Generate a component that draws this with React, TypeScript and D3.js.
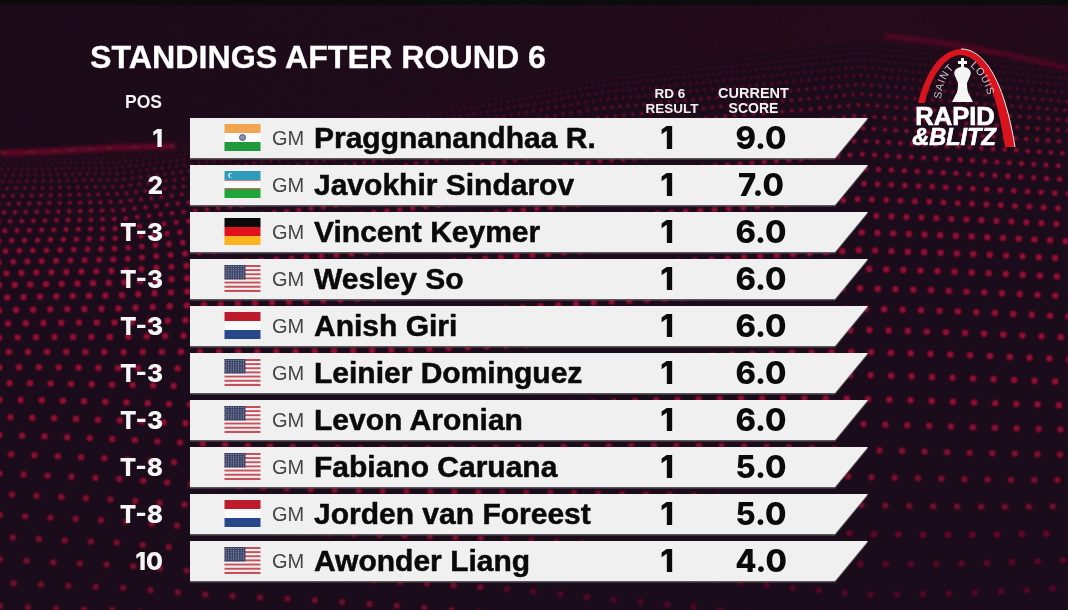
import { useEffect, useRef } from 'react';
import * as d3 from 'd3';

const positions = ['1', '2', 'T-3', 'T-3', 'T-3', 'T-3', 'T-3', 'T-8', 'T-8', '10'];
const players = [
    'Praggnanandhaa R.',
    'Javokhir Sindarov',
    'Vincent Keymer',
    'Wesley So',
    'Anish Giri',
    'Leinier Dominguez',
    'Levon Aronian',
    'Fabiano Caruana',
    'Jorden van Foreest',
    'Awonder Liang',
];
const flags = ['IN', 'UZ', 'DE', 'US', 'NL', 'US', 'US', 'US', 'NL', 'US'];
const results = ['1', '1', '1', '1', '1', '1', '1', '1', '1', '1'];
const scores = [9.0, 7.0, 6.0, 6.0, 6.0, 6.0, 6.0, 5.0, 5.0, 4.0];

const FONT = '"Liberation Sans", Arial, sans-serif';
const NUM_FONT = 'Inter, "Liberation Sans", sans-serif';
const BG = '#1a0c1a';

function drawFlag(g: d3.Selection<SVGGElement, unknown, null, undefined>, code: string) {
    const w = 36;
    const h = 27;
    const band = (y: number, bh: number, fill: string) =>
        g.append('rect').attr('y', y).attr('width', w).attr('height', bh).attr('fill', fill);

    if (code === 'IN') {
        band(0, 9, '#f2a550');
        band(9, 9, '#fafafa');
        band(18, 9, '#1f9a3a');
        g.append('circle').attr('cx', w / 2).attr('cy', 13.5).attr('r', 3)
            .attr('fill', '#8a93a8').attr('stroke', '#2d3a78').attr('stroke-width', 0.8);
    } else if (code === 'UZ') {
        band(0, 9, '#2e9dbb');
        band(9, 0.8, '#d8333f');
        band(9.8, 7.4, '#fafafa');
        band(17.2, 0.8, '#d8333f');
        band(18, 9, '#1ea53a');
        g.append('circle').attr('cx', 6).attr('cy', 4.4).attr('r', 2.3).attr('fill', '#fafafa');
        g.append('circle').attr('cx', 7).attr('cy', 4.4).attr('r', 2).attr('fill', '#2e9dbb');
    } else if (code === 'DE') {
        band(0, 9, '#0a0a0a');
        band(9, 9, '#e0101c');
        band(18, 9, '#fbb41f');
    } else if (code === 'NL') {
        band(0, 9, '#bd1a2c');
        band(9, 9, '#fafafa');
        band(18, 9, '#27478a');
    } else {
        const stripe = h / 13;
        d3.range(13).forEach((i) => {
            band(i * stripe, stripe, i % 2 === 0 ? '#c4505c' : '#f6f0f0');
        });
        g.append('rect').attr('width', 21).attr('height', stripe * 7).attr('fill', '#3b4466');
        d3.range(7).forEach((r) => {
            d3.range(8).forEach((c) => {
                g.append('circle')
                    .attr('cx', 1.6 + c * 2.5)
                    .attr('cy', 1.6 + r * 2.1)
                    .attr('r', 0.5)
                    .attr('fill', '#b9bfd2');
            });
        });
    }
}

function drawBackground(svg: d3.Selection<SVGSVGElement, unknown, null, undefined>, w: number, h: number) {
    const defs = svg.append('defs');
    defs.append('filter').attr('id', 'soft')
        .attr('x', '-5%').attr('y', '-5%').attr('width', '110%').attr('height', '110%')
        .append('feGaussianBlur').attr('stdDeviation', 0.9);
    defs.append('filter').attr('id', 'streak')
        .attr('x', '-10%').attr('y', '-300%').attr('width', '120%').attr('height', '700%')
        .append('feGaussianBlur').attr('stdDeviation', 2.2);

    svg.append('rect').attr('width', w).attr('height', h).attr('fill', BG);

    // ridge of the wave: flat on the left, lifts up behind the table
    const ridge = d3.scaleLinear()
        .domain([0, 120, 300, 600, 860, 1068])
        .range([152, 150, 125, 70, 42, 62]);

    const dots = svg.append('g').attr('filter', 'url(#soft)').attr('fill', '#b00c38');

    // lower surface, dots get larger toward the viewer
    for (let row = 0; row < 42; row++) {
        const step = 3.2 + row * 0.55;
        const dx = step * 1.25;
        const cols = Math.ceil(w / dx) + 4;
        for (let col = -2; col < cols; col++) {
            const x0 = col * dx + (row % 2) * dx * 0.5 + row * 0.4;
            const depth = 3.2 * row + 0.275 * row * row;
            const lift = 1 - Math.min(1, depth / 520);
            const wob = 9 * Math.sin(x0 / 130 + row / 5);
            const y0 = ridge(x0) + depth * (1 + (152 - ridge(x0)) / 500) + (152 - ridge(x0)) * (1 - lift) + wob * (1 - lift);
            if (y0 > h + 6) continue;
            const low = Math.max(0, (y0 - 400) / 210);
            const fade = x0 > 500 ? 1 - 0.6 * low : 1 - 0.35 * low;
            dots.append('circle')
                .attr('cx', x0)
                .attr('cy', y0)
                .attr('r', Math.min(3.2, 0.7 + row * 0.15))
                .attr('opacity', Math.min(0.85, 0.45 + row * 0.035) * fade);
        }
    }

    // upper surface, fine and faint
    for (let row = 1; row < 34; row++) {
        const step = 4.8;
        for (let col = 0; col < w / step + 1; col++) {
            const x0 = col * step + (row % 2) * step * 0.5;
            const y0 = ridge(x0) - row * 4.6 * (ridge(x0) / 152);
            if (y0 < 5) continue;
            dots.append('circle')
                .attr('cx', x0)
                .attr('cy', y0)
                .attr('r', 0.8)
                .attr('opacity', 0.28);
        }
    }

    const line = d3.line<[number, number]>().curve(d3.curveBasis);
    const swoosh = svg.append('g').attr('filter', 'url(#streak)').attr('fill', 'none').attr('stroke', '#a50e32');
    swoosh.append('path')
        .attr('d', line([[0, 153], [60, 151], [120, 147], [175, 146]]))
        .attr('stroke-width', 3.5).attr('opacity', 0.85);
    swoosh.append('path')
        .attr('d', line([[885, 36], [960, 44], [1068, 68]]))
        .attr('stroke-width', 3).attr('opacity', 0.6);

    svg.append('rect').attr('width', w).attr('height', 5).attr('fill', '#0c0c0c');
}

function drawLogo(svg: d3.Selection<SVGSVGElement, unknown, null, undefined>) {
    const g = svg.append('g');
    // arch
    g.append('path')
        .attr('d', 'M918,103 C926,72 940,50 961,49 C986,49 1005,85 1015,147 L1005,147 C998,100 985,56 961,55 C945,55 930,78 925,103 Z')
        .attr('fill', '#d8141f');
    g.append('path')
        .attr('d', 'M961,49 C986,49 1005,85 1015,147')
        .attr('fill', 'none').attr('stroke', '#f2f2f2').attr('stroke-width', 1);

    // chess king
    g.append('path')
        .attr('d', 'M961,58 h3 v3 h3 v3 h-3 v3 c6,1 8,5 6,9 l-3,7 c0,7 1,10 3,13 l3,6 h-21 l3,-6 c2,-3 3,-6 3,-13 l-3,-7 c-2,-4 0,-8 6,-9 v-3 h-3 v-3 h3 Z')
        .attr('fill', '#f5f5f5');

    const arcs = svg.append('defs');
    arcs.append('path').attr('id', 'saintArc').attr('d', 'M941,99 C942,86 946,76 955,67');
    arcs.append('path').attr('id', 'louisArc').attr('d', 'M970,66 C980,74 986,86 989,100');
    [['saintArc', 'SAINT'], ['louisArc', 'LOUIS']].forEach(([id, label]) => {
        g.append('text')
            .attr('font-family', FONT).attr('font-size', 10.5).attr('fill', '#c9c9c9').attr('letter-spacing', 0.8)
            .append('textPath').attr('href', `#${id}`).text(label);
    });

    g.append('text').attr('x', 955).attr('y', 125).attr('text-anchor', 'middle')
        .attr('font-family', FONT).attr('font-weight', 700).attr('font-size', 25.5)
        .attr('fill', '#fff').attr('stroke', '#fff').attr('stroke-width', 0.7).text('RAPID');
    g.append('text').attr('x', 954).attr('y', 145).attr('text-anchor', 'middle')
        .attr('font-family', FONT).attr('font-weight', 700).attr('font-size', 23.5)
        .attr('font-style', 'italic').attr('fill', '#fff').attr('stroke', '#fff').attr('stroke-width', 0.7).text('&BLITZ');
}

export default function App() {
    const svgRef = useRef<SVGSVGElement>(null);

    useEffect(() => {
        if (!svgRef.current) return;

        const width = 1068;
        const height = 610;
        const svg = d3.select(svgRef.current);
        svg.selectAll('*').remove();
        svg.attr('width', width).attr('height', height);

        drawBackground(svg, width, height);

        // 40px bars on a 47px step
        const y = d3.scaleBand<number>()
            .domain(d3.range(players.length))
            .range([118, 118 + 47 * players.length - 7])
            .paddingInner(7 / 47);

        const barLeft = 190;
        const barRight = 868;
        const slant = 33;

        svg.append('text').attr('x', 90).attr('y', 68)
            .attr('font-family', FONT).attr('font-weight', 700).attr('font-size', 32.2)
            .attr('fill', '#fff').attr('stroke', '#fff').attr('stroke-width', 0.3)
            .text('STANDINGS AFTER ROUND 6');

        const header = (x: number, yy: number, size: number, label: string) =>
            svg.append('text').attr('x', x).attr('y', yy).attr('text-anchor', 'middle')
                .attr('font-family', FONT).attr('font-weight', 700).attr('font-size', size)
                .attr('fill', '#f2f2f2').text(label);
        header(143.5, 107.5, 17.5, 'POS');
        header(670, 98, 13.5, 'RD 6');
        header(672, 112.5, 13.5, 'RESULT');
        header(753.5, 98, 14.5, 'CURRENT');
        header(753.5, 112.5, 14, 'SCORE');

        const rows = svg.selectAll<SVGGElement, string>('g.row')
            .data(players)
            .join('g')
            .attr('class', 'row')
            .attr('transform', (_, i) => `translate(0,${y(i)})`);

        const bh = y.bandwidth();
        const barPath = `M${barLeft},0 H${barRight} L${barRight - slant},${bh} H${barLeft} Z`;

        rows.append('path')
            .attr('d', barPath)
            .attr('transform', 'translate(0,1.5)')
            .attr('fill', '#5a565a');
        rows.append('path')
            .attr('d', barPath)
            .attr('fill', '#f0f0f0');

        rows.append('text')
            .attr('x', 163).attr('y', 28.7)
            .attr('text-anchor', 'end')
            .attr('font-family', NUM_FONT).attr('font-weight', 800).attr('font-size', 24.5)
            .attr('fill', '#f5f5f5')
            .text((_, i) => positions[i]);

        rows.each(function (_, i) {
            const f = d3.select(this).append('g').attr('transform', 'translate(224.5,6)') as any;
            drawFlag(f, flags[i]);
        });

        rows.append('text')
            .attr('x', 272).attr('y', 27)
            .attr('font-family', FONT).attr('font-size', 20)
            .attr('fill', '#444')
            .text('GM');

        rows.append('text')
            .attr('x', 314).attr('y', 30)
            .attr('font-family', FONT).attr('font-weight', 700).attr('font-size', 30)
            .attr('fill', '#0a0a0a').attr('stroke', '#0a0a0a').attr('stroke-width', 0.5)
            .text((d) => d);

        rows.append('text')
            .attr('x', 667).attr('y', 30.5)
            .attr('text-anchor', 'middle')
            .attr('font-family', NUM_FONT).attr('font-weight', 800).attr('font-size', 31)
            .attr('fill', '#0a0a0a')
            .text((_, i) => results[i]);

        rows.append('text')
            .attr('x', 761).attr('y', 30.5)
            .attr('text-anchor', 'middle')
            .attr('font-family', NUM_FONT).attr('font-weight', 800).attr('font-size', 31)
            .attr('fill', '#0a0a0a')
            .text((_, i) => d3.format('.1f')(scores[i]));

        drawLogo(svg);
    }, []);

    return <svg ref={svgRef} style={{ position: 'absolute', left: 0, top: 0 }}></svg>;
}
